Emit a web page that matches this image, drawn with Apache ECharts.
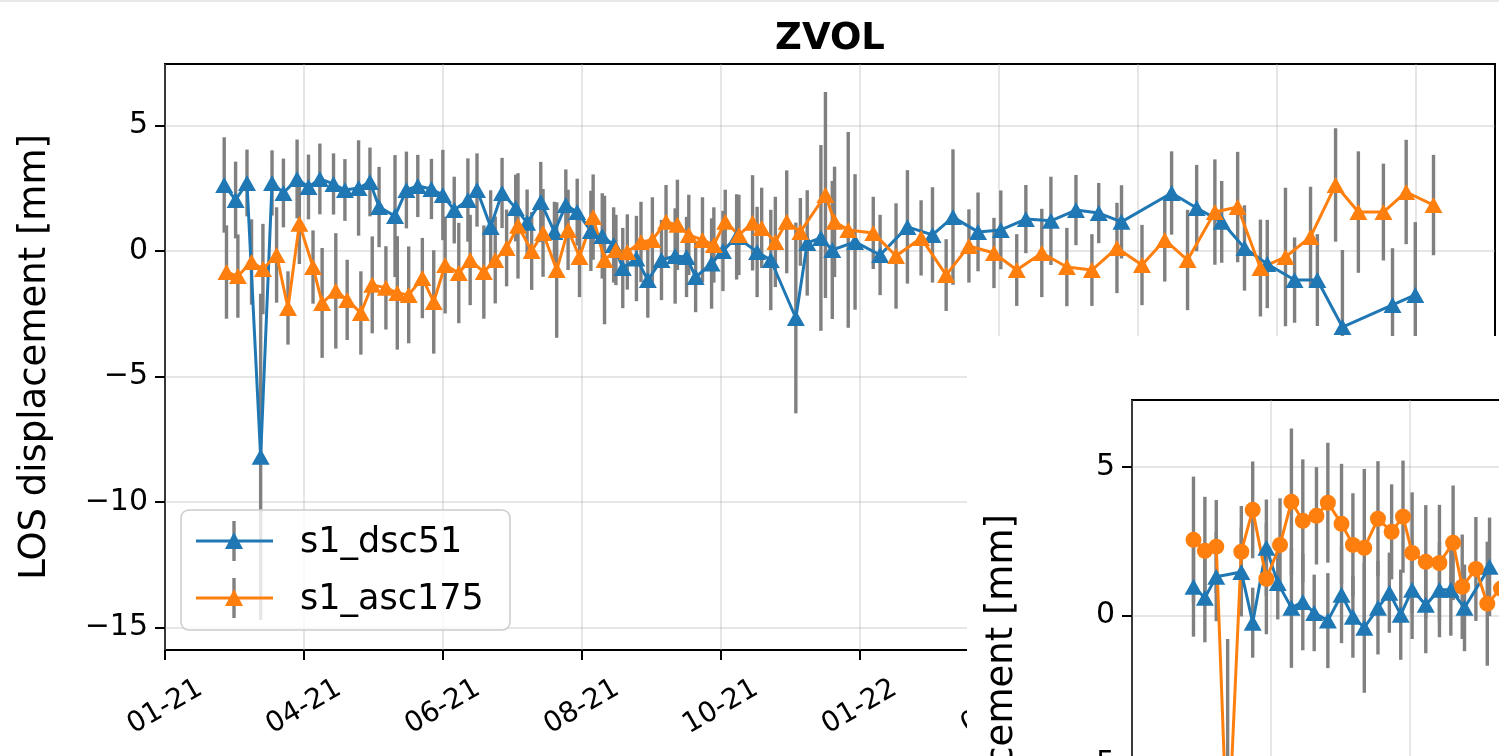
<!DOCTYPE html>
<html>
<head>
<meta charset="utf-8">
<title>ZVOL LOS displacement</title>
<script src="https://cdn.jsdelivr.net/npm/echarts@6/dist/echarts.min.js"></script>
<style>
  html, body { margin: 0; padding: 0; width: 1499px; height: 756px; overflow: hidden; background: #fff; }
  #main { position: absolute; left: 0; top: 0; width: 1499px; height: 756px; }
  #second { position: absolute; left: 967px; top: 336px; width: 1499px; height: 860px; background: #fff; }
  #edge { position: absolute; left: 0; top: 0; width: 1499px; height: 2px; background: #e8e8e8; z-index: 5; }
</style>
</head>
<body>
<div id="main"></div>
<div id="second"></div>
<div id="edge"></div>
<script>
// ---- tick labels (x: one label every DAY_STEP days; y: displacement ticks) ----
const tickLabels = ['01-21', '04-21', '06-21', '08-21', '10-21', '01-22', '02-22', '04-22', '06-22', '08-22'];
const yTicks = [-15, -10, -5, 0, 5];

// ---- ZVOL, s1_dsc51: day offset, LOS displacement [mm], 1-sigma [mm] ----
const dscDays = [26, 31, 36, 42, 47, 52, 58, 63, 68, 74, 79, 85, 90, 94, 101, 106, 111, 117, 122, 127,
  133, 137, 143, 148, 154, 159, 165, 171, 176, 181, 187, 192, 197, 201, 207, 212, 218, 224, 229, 233,
  240, 245, 251, 260, 266, 277, 282, 288, 293, 303, 314, 326, 337, 346, 357, 367, 378, 389, 400, 410,
  420, 442, 453, 464, 474, 484, 496, 506, 517, 539, 549];
const dscDisp = [2.63, 2.03, 2.71, -8.2, 2.71, 2.31, 2.87, 2.55, 2.87, 2.67, 2.43, 2.51, 2.75, 1.75, 1.39, 2.43, 2.59, 2.47, 2.23, 1.63,
  2.03, 2.43, 0.96, 2.31, 1.71, 1.12, 1.95, 0.76, 1.83, 1.55, 0.8, 0.6, 0.24, -0.68, -0.3, -1.16, -0.36, -0.2, -0.24, -1.04,
  -0.5, 0.0, 0.56, -0.04, -0.36, -2.67, 0.32, 0.52, 0.04, 0.36, -0.16, 0.96, 0.64, 1.35, 0.76, 0.84, 1.27, 1.2, 1.63, 1.51,
  1.16, 2.31, 1.71, 1.16, 0.12, -0.52, -1.16, -1.16, -3.03, -2.15, -1.75];
const dscErr = [1.9, 1.53, 1.33, 6.5, 1.3, 1.37, 1.57, 1.29, 1.41, 1.22, 1.23, 1.9, 1.37, 1.6, 2.43, 1.53, 1.24, 1.2, 1.8, 1.33,
  1.66, 1.46, 1.46, 1.4, 1.33, 1.33, 1.6, 1.2, 1.42, 1.33, 1.6, 1.7, 1.5, 1.6, 1.7, 1.5, 1.6, 1.9, 1.6, 1.4,
  1.8, 1.6, 1.7, 1.8, 2.0, 3.8, 2.1, 3.7, 2.75, 2.7, 1.6, 2.26, 1.9, 2.7, 1.57, 1.57, 1.36, 1.76, 1.4, 1.2,
  1.46, 1.66, 1.72, 1.63, 1.7, 1.76, 1.7, 1.83, 3.07, 2.26, 2.9];

// ---- ZVOL, s1_asc175 ----
const ascDays = [27, 32, 38, 43, 49, 54, 59, 65, 69, 75, 80, 86, 91, 97, 102, 107, 113, 118, 123, 129,
  134, 140, 145, 150, 155, 161, 166, 172, 177, 182, 188, 193, 198, 203, 209, 214, 220, 225, 230, 236,
  241, 246, 252, 258, 262, 268, 273, 279, 290, 294, 300, 311, 321, 332, 343, 353, 364, 374, 385, 396,
  407, 418, 429, 439, 449, 461, 471, 481, 492, 503, 514, 524, 535, 545, 557];
const ascDisp = [-0.84, -1.0, -0.44, -0.72, -0.16, -2.27, 1.08, -0.64, -2.07, -1.59, -1.95, -2.47, -1.35, -1.47, -1.67, -1.75, -1.08, -2.03, -0.56, -0.88,
  -0.36, -0.84, -0.36, 0.12, 1.0, 0.0, 0.72, -0.76, 0.84, -0.24, 1.35, -0.36, 0.04, -0.04, 0.36, 0.44, 1.16, 1.04, 0.64, 0.44,
  0.24, 1.16, 0.64, 1.12, 0.92, 0.36, 1.16, 0.76, 2.23, 1.16, 0.84, 0.72, -0.2, 0.52, -0.96, 0.2, -0.08, -0.76, -0.08, -0.64,
  -0.76, 0.12, -0.56, 0.44, -0.36, 1.55, 1.75, -0.68, -0.24, 0.56, 2.63, 1.55, 1.55, 2.35, 1.83];
const ascErr = [1.86, 1.66, 1.7, 1.8, 1.9, 1.46, 1.6, 1.46, 2.19, 2.3, 1.6, 1.66, 1.93, 1.66, 2.26, 1.93, 1.6, 2.06, 1.93, 2.0,
  1.8, 1.86, 1.73, 1.53, 2.1, 1.55, 1.75, 2.7, 1.6, 1.6, 1.7, 2.56, 1.4, 1.5, 1.6, 1.7, 1.47, 1.8, 1.6, 1.7,
  1.5, 1.28, 1.6, 1.9, 1.6, 1.8, 2.05, 1.35, 4.1, 2.2, 3.9, 1.44, 2.1, 1.5, 1.43, 1.46, 1.4, 1.43, 1.76, 1.56,
  1.43, 1.8, 1.6, 1.66, 2.0, 2.1, 2.2, 1.93, 2.76, 2.0, 2.26, 2.42, 1.93, 2.08, 2.0];

// ---- second station: triangle track ----
const triDays = [27, 32, 37, 48, 53, 59, 64, 70, 75, 80, 86, 92, 97, 102, 108, 113, 118, 123, 129, 135, 140, 146, 157];
const triDisp = [0.96, 0.59, 1.3, 1.46, -0.25, 2.27, 1.09, 0.25, 0.45, 0.08, -0.18, 0.69, -0.05, -0.42, 0.25, 0.76, 0.02, 0.86, 0.35, 0.86, 0.86, 0.25, 1.63];
const triErr = [1.68, 1.5, 1.5, 1.5, 1.18, 1.63, 1.23, 2.02, 1.63, 1.29, 1.6, 1.63, 1.38, 2.19, 1.57, 1.35, 1.52, 1.66, 1.63, 1.6, 1.55, 1.46, 1.66];

// ---- second station: circle track ----
const circDays = [27, 32, 37, 42, 48, 53, 59, 65, 70, 75, 81, 86, 92, 97, 102, 108, 114, 119, 123, 129, 135, 141, 145, 151, 156, 162];
const circDisp = [2.54, 2.17, 2.31, -8.0, 2.14, 3.55, 1.23, 2.37, 3.82, 3.18, 3.35, 3.79, 3.08, 2.37, 2.27, 3.25, 2.81, 3.32, 2.1, 1.8, 1.76, 2.44, 0.96, 1.56, 0.39, 0.9];
const circErr = [2.13, 1.82, 1.57, 7.2, 1.54, 1.63, 1.87, 1.57, 2.47, 2.07, 1.64, 2.02, 2.02, 1.74, 2.66, 1.94, 1.6, 1.89, 2.04, 1.91, 1.96, 1.93, 1.76, 1.75, 2.09, 1.9];

// ---- styling ----
const FONT = 'DejaVu Sans';
const BLUE = '#1f77b4';
const ORANGE = '#ff7f0e';
const BAR = '#808080';
const GRID = 'rgba(176,176,176,0.32)';
const DAY_STEP = 61;
const X_MAX = 584;
const xTicks = tickLabels.map((_, i) => i * DAY_STEP).filter(v => v <= X_MAX);

function fmtNum(v) {
  return v < 0 ? '\u2212' + (-v) : String(v);
}

function xAxisCfg() {
  return {
    type: 'value', min: 0, max: X_MAX,
    axisLine: { show: false, onZero: false },
    axisTick: { show: true, length: 10, lineStyle: { color: '#000', width: 2 }, customValues: xTicks },
    axisLabel: {
      customValues: xTicks,
      rotate: 30, align: 'center', verticalAlign: 'middle', margin: 57,
      fontSize: 28, color: '#000', fontFamily: FONT,
      formatter: v => tickLabels[Math.round(v / DAY_STEP)] || ''
    },
    splitLine: { show: true, lineStyle: { color: GRID, width: 2 } }
  };
}

function yAxisCfg(min, max) {
  return {
    type: 'value', min: min, max: max,
    name: 'LOS displacement [mm]', nameLocation: 'middle', nameRotate: 90, nameGap: 111,
    nameTextStyle: { fontSize: 37, color: '#000', fontFamily: FONT },
    axisLine: { show: false, onZero: false },
    axisTick: { show: true, length: 10, lineStyle: { color: '#000', width: 2 }, customValues: yTicks },
    axisLabel: { customValues: yTicks, margin: 17, fontSize: 30, color: '#000', fontFamily: FONT, formatter: fmtNum },
    splitLine: { show: true, lineStyle: { color: GRID, width: 2 } }
  };
}

// vertical 1-sigma bars, drawn under the lines
function errorBars(days, vals, errs) {
  return {
    type: 'custom', z: 1, silent: true, clip: true, animation: false,
    data: days.map((d, i) => [d, vals[i] - errs[i], vals[i] + errs[i]]),
    encode: { x: 0, y: [1, 2] },
    renderItem: (params, api) => {
      const lo = api.coord([api.value(0), api.value(1)]);
      const hi = api.coord([api.value(0), api.value(2)]);
      return {
        type: 'line',
        shape: { x1: lo[0], y1: lo[1], x2: hi[0], y2: hi[1] },
        style: { stroke: BAR, lineWidth: 3.4 }
      };
    }
  };
}

function track(name, days, vals, color, symbol, size) {
  return {
    type: 'line', name: name, z: 3, animation: false,
    data: days.map((d, i) => [d, vals[i]]),
    symbol: symbol, symbolSize: size, showAllSymbol: true,
    lineStyle: { color: color, width: 3 },
    itemStyle: { color: color, borderWidth: 0 },
    emphasis: { disabled: true }
  };
}

const gridCfg = (h) => ({
  left: 165, top: 64, width: 1330, height: h,
  show: true, borderColor: '#000', borderWidth: 2, backgroundColor: 'transparent'
});

// legend box drawn as graphic: line key, error-bar key, marker and label
function legendKey(cy, color, label) {
  return [
    { type: 'line', z: 11, shape: { x1: 234, y1: cy - 20, x2: 234, y2: cy + 20 }, style: { stroke: BAR, lineWidth: 3.4 } },
    { type: 'line', z: 12, shape: { x1: 196, y1: cy, x2: 273, y2: cy }, style: { stroke: color, lineWidth: 3 } },
    { type: 'polygon', z: 13, shape: { points: [[234, cy - 9], [225, cy + 8], [243, cy + 8]] }, style: { fill: color } },
    { type: 'text', z: 13, x: 300, y: cy + 2, style: { text: label, font: '35px "DejaVu Sans"', fill: '#000', verticalAlign: 'middle' } }
  ];
}

const mainChart = echarts.init(document.getElementById('main'), null, { renderer: 'canvas' });
mainChart.setOption({
  animation: false,
  textStyle: { fontFamily: FONT },
  title: {
    text: 'ZVOL', left: 825, top: 16, textAlign: 'center',
    textStyle: { fontSize: 37, fontWeight: 'bold', fontFamily: FONT, color: '#000' }
  },
  grid: gridCfg(586),
  xAxis: xAxisCfg(),
  yAxis: yAxisCfg(-15.9, 7.45),
  series: [
    errorBars(dscDays, dscDisp, dscErr),
    errorBars(ascDays, ascDisp, ascErr),
    track('s1_dsc51', dscDays, dscDisp, BLUE, 'triangle', [18, 16]),
    track('s1_asc175', ascDays, ascDisp, ORANGE, 'triangle', [18, 16])
  ],
  graphic: [
    { type: 'rect', z: 10, shape: { x: 181, y: 510, width: 329, height: 120, r: 8 },
      style: { fill: 'rgba(255,255,255,0.8)', stroke: '#cccccc', lineWidth: 1.5 } },
    ...legendKey(541, BLUE, 's1_dsc51'),
    ...legendKey(598, ORANGE, 's1_asc175')
  ]
});

const secondChart = echarts.init(document.getElementById('second'), null, { renderer: 'canvas' });
secondChart.setOption({
  animation: false,
  textStyle: { fontFamily: FONT },
  grid: gridCfg(674),
  xAxis: xAxisCfg(),
  yAxis: yAxisCfg(-15.45, 7.25),
  series: [
    errorBars(triDays, triDisp, triErr),
    errorBars(circDays, circDisp, circErr),
    track('descending', triDays, triDisp, BLUE, 'triangle', [18, 16]),
    track('ascending', circDays, circDisp, ORANGE, 'circle', 16)
  ]
});
</script>
</body>
</html>
